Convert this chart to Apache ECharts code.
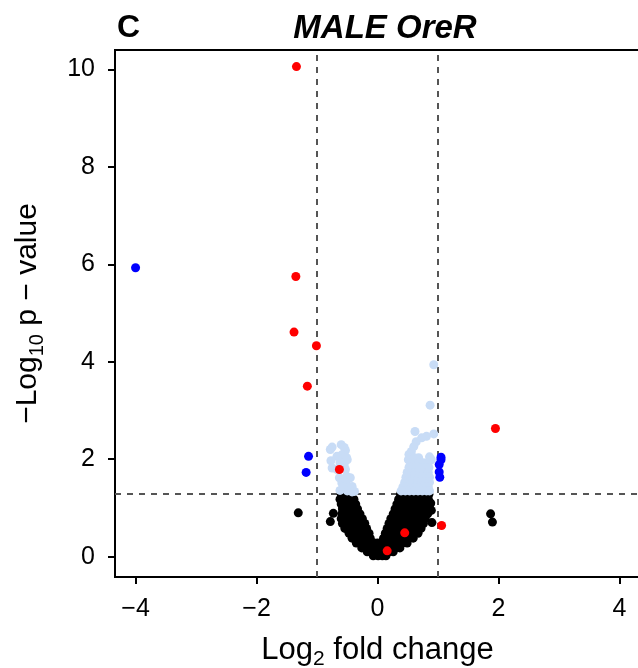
<!DOCTYPE html>
<html><head><meta charset="utf-8">
<script src="https://cdn.jsdelivr.net/npm/echarts@6/dist/echarts.min.js"></script>
<style>html,body{margin:0;padding:0;background:#fff}#c{width:638px;height:668px}</style>
</head><body><div id="c"></div>
<script>
// ---- data ----
const xTicks = [-4, -2, 0, 2, 4];
const yTicks = [0, 2, 4, 6, 8, 10];
const fcCutoffs = [-1, 1];
const pCutoff = 1.301;

const redPoints = [[-1.34,10.06],[-1.35,5.75],[-1.38,4.61],[-1.01,4.33],[-1.16,3.50],[-0.63,1.79],
  [1.95,2.63],[1.06,0.64],[0.45,0.49],[0.16,0.12]];
const bluePoints = [[-4.0,5.93],[-1.14,2.06],[-1.18,1.73],
  [1.05,2.04],[1.05,1.99],[1.02,1.89],[1.02,1.74],[1.03,1.63]];
const lightBluePoints = [
  [-0.78,2.20],[-0.75,2.25],[-0.60,2.30],[-0.55,2.24],[-0.53,2.18],[-0.59,2.09],[-0.51,2.03],[-0.67,2.06],
  [-0.77,1.97],[-0.62,1.93],[-0.50,1.99],[-0.55,1.88],[-0.75,1.82],[-0.67,1.79],[-0.53,1.79],[-0.51,1.65],
  [-0.45,1.62],[-0.63,1.62],[-0.57,1.56],[-0.59,1.51],[-0.52,1.52],[-0.42,1.44],[-0.56,1.44],[-0.45,1.42],
  [-0.57,1.40],[-0.42,1.33],[-0.50,1.35],[-0.62,1.36],[-0.38,1.34],
  [0.93,3.94],[0.87,3.11],[0.62,2.57],[0.93,2.52],[0.81,2.47],[0.73,2.44],[0.64,2.36],[0.60,2.26],
  [0.56,2.16],[0.52,2.10],[0.51,1.99],[0.89,1.99],[0.86,2.05],
  [0.54,2.03],[0.61,2.03],[0.68,2.03],
  [0.55,1.93],[0.62,1.93],[0.69,1.93],[0.76,1.93],[0.83,1.93],
  [0.52,1.83],[0.59,1.83],[0.66,1.83],[0.73,1.83],[0.80,1.83],[0.85,1.83],
  [0.49,1.73],[0.56,1.73],[0.63,1.73],[0.70,1.73],[0.77,1.73],[0.84,1.73],
  [0.47,1.63],[0.54,1.63],[0.61,1.63],[0.68,1.63],[0.75,1.63],[0.82,1.63],[0.86,1.63],
  [0.45,1.53],[0.52,1.53],[0.59,1.53],[0.66,1.53],[0.73,1.53],[0.80,1.53],[0.86,1.53],
  [0.42,1.43],[0.49,1.43],[0.56,1.43],[0.63,1.43],[0.70,1.43],[0.77,1.43],[0.84,1.43],
  [0.39,1.35],[0.46,1.35],[0.53,1.35],[0.60,1.35],[0.67,1.35],[0.74,1.35],[0.81,1.35],[0.86,1.35]];
// black (non-significant) points, grouped by -log10 p row: [y, [log2FC values]]
const blackRows = [
  [1.28, [-0.60,-0.53,-0.45, 0.38,0.45,0.52,0.59,0.66,0.73,0.80,0.85]],
  [1.18, [-0.62,-0.54,-0.46,-0.39, 0.35,0.42,0.49,0.56,0.63,0.70,0.77,0.84]],
  [1.08, [-0.60,-0.52,-0.44,-0.36, 0.32,0.39,0.46,0.53,0.60,0.67,0.74,0.81,0.87]],
  [0.98, [-0.58,-0.50,-0.41,-0.33, 0.29,0.36,0.43,0.50,0.57,0.64,0.71,0.78,0.85]],
  [0.88, [-0.59,-0.51,-0.43,-0.36,-0.29, 0.26,0.33,0.40,0.47,0.54,0.61,0.68,0.75,0.83]],
  [0.78, [-0.60,-0.52,-0.44,-0.38,-0.31,-0.25, 0.22,0.29,0.36,0.43,0.50,0.57,0.64,0.71,0.79]],
  [0.68, [-0.58,-0.50,-0.43,-0.36,-0.28,-0.21, 0.19,0.26,0.33,0.40,0.47,0.54,0.61,0.68,0.76]],
  [0.58, [-0.54,-0.46,-0.38,-0.31,-0.24,-0.18, 0.16,0.23,0.30,0.37,0.44,0.51,0.58,0.65,0.72]],
  [0.48, [-0.47,-0.39,-0.31,-0.24,-0.18,-0.14, 0.13,0.20,0.27,0.34,0.41,0.48,0.55,0.62,0.67]],
  [0.38, [-0.42,-0.34,-0.26,-0.19,-0.12, 0.10,0.17,0.24,0.31,0.38,0.45,0.52,0.59]],
  [0.28, [-0.35,-0.27,-0.19,-0.12,-0.06, 0.00,0.06,0.13,0.20,0.27,0.34,0.41,0.49]],
  [0.18, [-0.26,-0.18,-0.10,-0.03, 0.03,0.10,0.17,0.24,0.30,0.37]],
  [0.10, [-0.17,-0.09,-0.02, 0.05,0.12,0.19,0.26]],
  [0.02, [-0.07,0.01,0.08,0.14]]
];
const blackExtra = [[-1.31,0.90],[-0.73,0.89],[-0.78,0.72],[1.87,0.88],[1.90,0.71],[0.90,0.70],[0.88,1.10],[0.89,0.95]];

// ---- chart ----
const blackPoints = [];
blackRows.forEach(([y, xs]) => xs.forEach(x => blackPoints.push([x, y])));
blackExtra.forEach(p => blackPoints.push(p));

const FONT = 'Liberation Sans, Arial, Helvetica, sans-serif';
const minus = v => String(v).replace('-', '\u2212');

const chart = echarts.init(document.getElementById('c'), null, {renderer: 'canvas'});
const dot = (name, data, color, z) => ({
  name, type: 'scatter', data, symbolSize: 9, z,
  itemStyle: {color, opacity: 1}, silent: true, emphasis: {disabled: true}
});
chart.setOption({
  animation: false,
  backgroundColor: '#fff',
  title: [
    {text: 'C', left: 112, top: 7, textStyle: {fontFamily: FONT, fontSize: 32, fontWeight: 'bold', color: '#000'}},
    {text: 'MALE OreR', left: 380, top: 7, textAlign: 'center',
     textStyle: {fontFamily: FONT, fontSize: 33, fontWeight: 'bold', fontStyle: 'italic', color: '#000'}}
  ],
  grid: {left: 115, top: 50, width: 525, height: 527, show: true, borderColor: '#000', borderWidth: 2,
         backgroundColor: 'transparent', containLabel: false, outerBoundsMode: 'none'},
  xAxis: {
    type: 'value', min: -4.34, max: 4.34,
    splitLine: {show: false},
    axisLine: {show: false, onZero: false},
    axisTick: {show: true, length: 7, customValues: xTicks, lineStyle: {color: '#000', width: 2}},
    axisLabel: {customValues: xTicks, formatter: minus, margin: 20, color: '#000', fontSize: 25, fontFamily: FONT},
    name: '{a|Log}{s|2}{a| fold change}',
    nameLocation: 'middle', nameGap: 53,
    nameTextStyle: {fontFamily: FONT, fontSize: 31, color: '#000',
      rich: {a: {fontFamily: FONT, fontSize: 31, color: '#000'},
             s: {fontFamily: FONT, fontSize: 21, color: '#000', padding: [19, 0, 0, 0]}}}
  },
  yAxis: {
    type: 'value', min: -0.417, max: 10.4,
    splitLine: {show: false},
    axisLine: {show: false, onZero: false},
    axisTick: {show: true, length: 7, customValues: yTicks, lineStyle: {color: '#000', width: 2}},
    axisLabel: {customValues: yTicks, margin: 20, color: '#000', fontSize: 25, fontFamily: FONT},
    name: '{a|\u2212Log}{s|10}{a| p \u2212 value}',
    nameLocation: 'middle', nameGap: 68, nameRotate: 90,
    nameTextStyle: {fontFamily: FONT, fontSize: 30, color: '#000',
      rich: {a: {fontFamily: FONT, fontSize: 30, color: '#000'},
             s: {fontFamily: FONT, fontSize: 20, color: '#000', padding: [18, 0, 0, 0]}}}
  },
  series: [
    {
      name: 'cutoffs', type: 'scatter', data: [], z: 1, silent: true,
      markLine: {
        z: 1, silent: true, symbol: 'none', animation: false,
        label: {show: false},
        lineStyle: {color: '#555', type: [6, 6], width: 2},
        emphasis: {disabled: true},
        data: [{xAxis: fcCutoffs[0]}, {xAxis: fcCutoffs[1]}, {yAxis: pCutoff}]
      }
    },
    dot('ns', blackPoints, '#000000', 2),
    dot('p only', lightBluePoints, '#C8DCF6', 3),
    dot('fc only', bluePoints, '#0000FF', 4),
    dot('both', redPoints, '#FF0000', 5)
  ]
});
</script>
</body></html>
